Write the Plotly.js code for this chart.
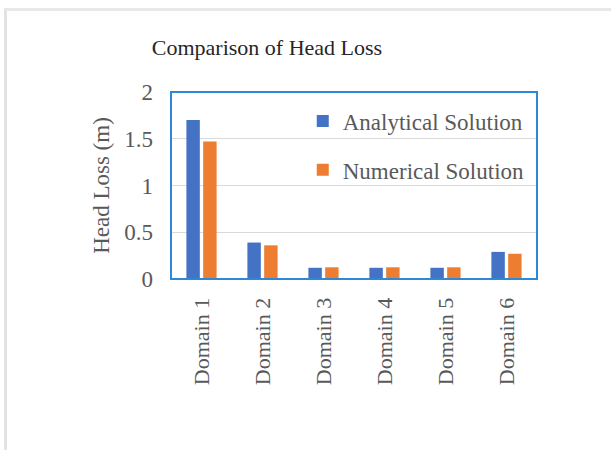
<!DOCTYPE html>
<html>
<head>
<meta charset="utf-8">
<script src="https://cdn.plot.ly/plotly-3.0.1.min.js"></script>
<style>
  html, body { margin: 0; padding: 0; background: #fff; }
  #frame { position: absolute; left: 4px; top: 8px; width: 700px; height: 500px;
           border-left: 3px solid #E3E3E3; border-top: 3px solid #E8E8E8; }
  #chart { position: absolute; left: 0; top: 0; width: 611px; height: 450px; }
</style>
</head>
<body>
<div id="frame"></div>
<div id="chart"></div>
<script>
const categories = ["Domain 1", "Domain 2", "Domain 3", "Domain 4", "Domain 5", "Domain 6"];
const analytical = [1.70, 0.39, 0.12, 0.12, 0.12, 0.29];
const numerical = [1.47, 0.36, 0.125, 0.125, 0.125, 0.27];
const yTicks = [0, 0.5, 1, 1.5, 2];
const yTickText = ["0", "0.5", "1", "1.5", "2"];

const serif = "Liberation Serif, Times New Roman, serif";

const traces = [
  { type: "bar", name: "Analytical Solution", x: categories, y: analytical,
    marker: { color: "#4472C4" }, legendgroup: "a" },
  { type: "bar", name: "Numerical Solution", x: categories, y: numerical,
    marker: { color: "#ED7D31" }, legendgroup: "n" }
];

const layout = {
  width: 611, height: 450,
  paper_bgcolor: "rgba(0,0,0,0)", plot_bgcolor: "rgba(0,0,0,0)",
  margin: { l: 171, r: 74, t: 92, b: 171 },
  barmode: "group", bargap: 0.45, bargroupgap: 0.2,
  font: { family: serif, color: "#595959", size: 22 },
  title: { text: "Comparison of Head Loss", font: { family: serif, size: 22, color: "#262626" },
           x: 0.437, xref: "container", xanchor: "center", y: 0.896, yref: "container", yanchor: "middle" },
  xaxis: { type: "category", tickangle: -90, showgrid: false, showline: true,
           linecolor: "#BFBFBF", linewidth: 1, ticks: "", ticklabelstandoff: 9,
           tickfont: { family: serif, size: 22, color: "#595959" }, fixedrange: true },
  yaxis: { range: [0, 2], tickvals: yTicks, ticktext: yTickText, showgrid: true,
           gridcolor: "#D9D9D9", gridwidth: 1, zeroline: false, showline: false, ticks: "",
           ticklabelstandoff: 17,
           tickfont: { family: serif, size: 23, color: "#595959" },
           title: { text: "Head Loss (m)", font: { family: serif, size: 23, color: "#595959" }, standoff: 8 } },
  showlegend: true,
  legend: { x: 0.36, xanchor: "left", y: 0.96, yanchor: "top", bgcolor: "rgba(0,0,0,0)",
            traceorder: "grouped", tracegroupgap: 16,
            font: { family: serif, size: 23, color: "#595959" } },
  shapes: [
    { type: "rect", xref: "paper", yref: "paper", x0: 0, x1: 1, y0: 0, y1: 1,
      line: { color: "#2F88D6", width: 2 }, fillcolor: "rgba(0,0,0,0)", layer: "above" }
  ]
};

Plotly.newPlot("chart", traces, layout, { displayModeBar: false, staticPlot: true });
</script>
</body>
</html>
